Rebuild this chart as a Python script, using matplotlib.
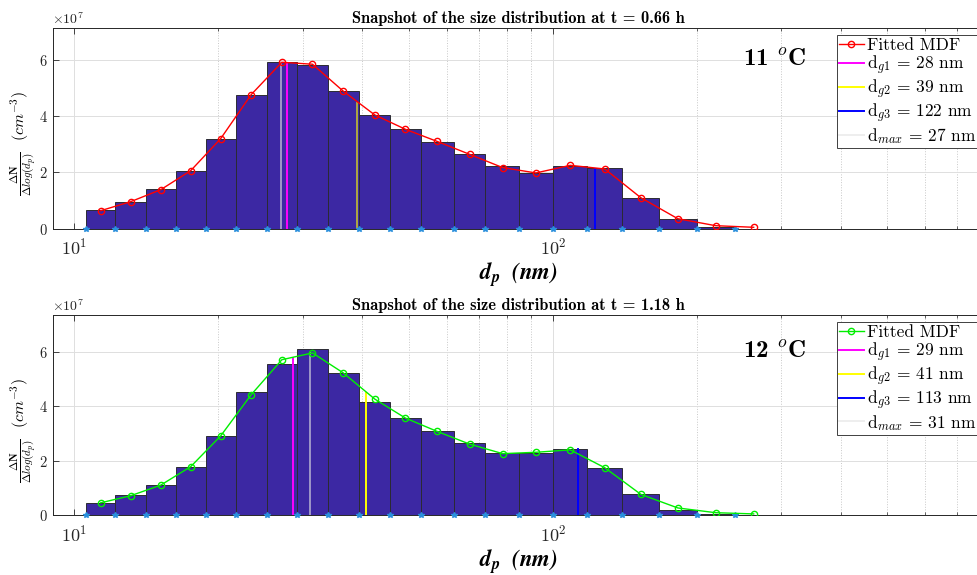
# plot.py
# snapshot of the size distribution, two temperatures
import numpy as np
import matplotlib
matplotlib.use('Agg')
import matplotlib.pyplot as plt
from matplotlib.ticker import ScalarFormatter, NullFormatter

plt.rcParams['mathtext.fontset'] = 'cm'
plt.rcParams['font.family'] = 'serif'
plt.rcParams['font.serif'] = ['cmr10']
plt.rcParams['axes.formatter.use_mathtext'] = True
plt.rcParams['axes.unicode_minus'] = False

# DATA (counts in units of 1e7 cm^-3)
# -----------------------------------
bin_edges = [10.56, 12.18, 14.10, 16.28, 18.83, 21.76, 25.21, 29.16, 33.85, 39.30, 45.67,
             53.13, 62.14, 72.26, 84.92, 100.0, 118.0, 139.6, 166.4, 199.8, 240.6, 285.0]
bin_mid = [11.35, 13.11, 15.15, 17.50, 20.21, 23.41, 27.14, 31.45, 36.43, 42.44, 49.19,
           57.28, 67.01, 78.52, 92.15, 108.7, 128.4, 152.7, 182.4, 218.9, 262.8]

counts_11 = [0.653, 0.948, 1.409, 2.06, 3.195, 4.735, 5.93, 5.83, 4.89, 4.04, 3.53,
             3.08, 2.64, 2.24, 1.98, 2.23, 2.14, 1.10, 0.33, 0.05, 0.005]
fit_11 = [0.64, 0.96, 1.385, 2.06, 3.195, 4.76, 5.91, 5.84, 4.89, 4.04, 3.53,
          3.10, 2.64, 2.17, 1.98, 2.25, 2.12, 1.10, 0.355, 0.107, 0.05]

counts_12 = [0.44, 0.72, 1.09, 1.78, 2.91, 4.52, 5.55, 6.13, 5.23, 4.18, 3.58,
             3.09, 2.64, 2.29, 2.27, 2.42, 1.74, 0.77, 0.20, 0.03, 0.005]
fit_12 = [0.45, 0.71, 1.10, 1.78, 2.91, 4.43, 5.72, 5.97, 5.24, 4.27, 3.57,
          3.08, 2.61, 2.26, 2.31, 2.40, 1.74, 0.76, 0.26, 0.085, 0.04]

# mode diameters (nm) and heights of their markers (1e7 cm^-3)
modes_11 = [27.8, 38.9, 122.2, 27.0]
heights_11 = [5.84, 4.47, 2.13, 5.93]
labels_11 = ['d$_{g1}$ = 28 nm', 'd$_{g2}$ = 39 nm', 'd$_{g3}$ = 122 nm', 'd$_{max}$ = 27 nm']

modes_12 = [28.6, 40.6, 112.7, 31.0]
heights_12 = [5.79, 4.48, 2.42, 5.97]
labels_12 = ['d$_{g1}$ = 29 nm', 'd$_{g2}$ = 41 nm', 'd$_{g3}$ = 113 nm', 'd$_{max}$ = 31 nm']

titles = ['Snapshot of the size distribution at t = 0.66 h',
          'Snapshot of the size distribution at t = 1.18 h']
temps = ['11 $^o$C', '12 $^o$C']

# GLOBALS
# -----------------------------------
W, H = 977, 575
bar_color = '#3c28a3'
star_color = '#2a8fdc'
txt_color = '#262626'
mode_colors = ['#ff00ff', '#ffff00', '#0000ff', '#e2e2e2']


def draw_panel(ax, counts, fit, fit_color, modes, heights, mode_labels, title, temp,
               yellow_alpha, leg_top):
    edges = np.array(bin_edges)
    scale = 1e7
    ax.bar(edges[:-1], np.array(counts) * scale, width=np.diff(edges), align='edge',
           color=bar_color, edgecolor='#2b2b33', linewidth=0.7, zorder=2)
    ax.plot(edges[:-1], np.zeros(len(edges) - 1), '*', color=star_color, markersize=4,
            zorder=5, clip_on=False)
    fit_line, = ax.plot(bin_mid, np.array(fit) * scale, '-o', color=fit_color, linewidth=1.0,
                        markersize=4.5, markerfacecolor='none', markeredgewidth=1.0, zorder=6)
    handles = [fit_line]
    for i, (d, h) in enumerate(zip(modes, heights)):
        alpha = 1.0
        if i == 1:
            alpha = yellow_alpha
        if i == 3:
            alpha = 0.6
        ln, = ax.plot([d, d], [0, h * scale], color=mode_colors[i], linewidth=1.4,
                      alpha=alpha, zorder=4)
        handles.append(ln)

    ax.set_xscale('log')
    ax.set_xlim(9, 800)
    ax.set_ylim(0, 1.2 * max(counts) * scale)
    ax.set_yticks([0, 2e7, 4e7, 6e7])
    fmt = ScalarFormatter(useMathText=True)
    ax.yaxis.set_major_formatter(fmt)
    ax.xaxis.set_minor_formatter(NullFormatter())
    ax.yaxis.get_offset_text().set_fontsize(10)
    ax.yaxis.get_offset_text().set_color(txt_color)

    ax.tick_params(which='both', direction='in', top=True, right=True, colors=txt_color)
    ax.tick_params(which='major', length=4, width=0.6)
    ax.tick_params(which='minor', length=2.5, width=0.5)
    ax.tick_params(axis='x', labelsize=13, pad=6)
    ax.tick_params(axis='y', labelsize=10.5)
    ax.grid(True, which='major', color='#dedede', linewidth=0.7)
    ax.grid(True, which='minor', axis='x', color='#c8c8c8', linestyle=':', linewidth=0.7)
    ax.set_axisbelow(True)
    for sp in ax.spines.values():
        sp.set_color('#262626')
        sp.set_linewidth(0.7)

    ax.set_title(title, fontfamily='cmb10', fontsize=11.8, pad=4, color='black')
    ax.text(250, 6e7, temp, fontfamily='cmb10', fontsize=18, va='center', ha='left')
    ax.set_xlabel(r'$\mathbfit{d_p}\ \ \mathbfit{(nm)}$', math_fontfamily='stix',
                  fontsize=16.5, labelpad=2)
    ax.set_ylabel(r'$\frac{\mathbf{\Delta N}}{\mathbf{\Delta} log(d_p)}$  $(cm^{-3})$',
                  fontsize=11.5)
    ax.yaxis.set_label_coords(-0.015, 0.425)

    leg = ax.legend(handles, ['Fitted MDF'] + mode_labels, loc='upper left',
                    bbox_to_anchor=(836.7 / W, 1 - leg_top / H), bbox_transform=ax.figure.transFigure,
                    fancybox=False, edgecolor='#404040', framealpha=1, borderaxespad=0,
                    borderpad=0.15, handlelength=1.4, handletextpad=0.2, labelspacing=0.05,
                    fontsize=12.5)
    leg.get_frame().set_linewidth(0.7)
    for lh in leg.legend_handles[1:3]:
        lh.set_alpha(1.0)


# -----------------------------------
# MAIN
# -----------------------------------
if __name__ == '__main__':
    fig = plt.figure(figsize=(W / 100, H / 100), dpi=100)
    left = 52.5 / W
    width = (985 - 52.5) / W
    ax1 = fig.add_axes([left, 1 - 228.7 / H, width, 200.4 / H])
    ax2 = fig.add_axes([left, 1 - 515 / H, width, 199.7 / H])

    draw_panel(ax1, counts_11, fit_11, '#ff0000', modes_11, heights_11, labels_11,
               titles[0], temps[0], 0.6, 35)
    draw_panel(ax2, counts_12, fit_12, '#00ee00', modes_12, heights_12, labels_12,
               titles[1], temps[1], 1.0, 321.7)

    fig.savefig('out.png', dpi=100)
